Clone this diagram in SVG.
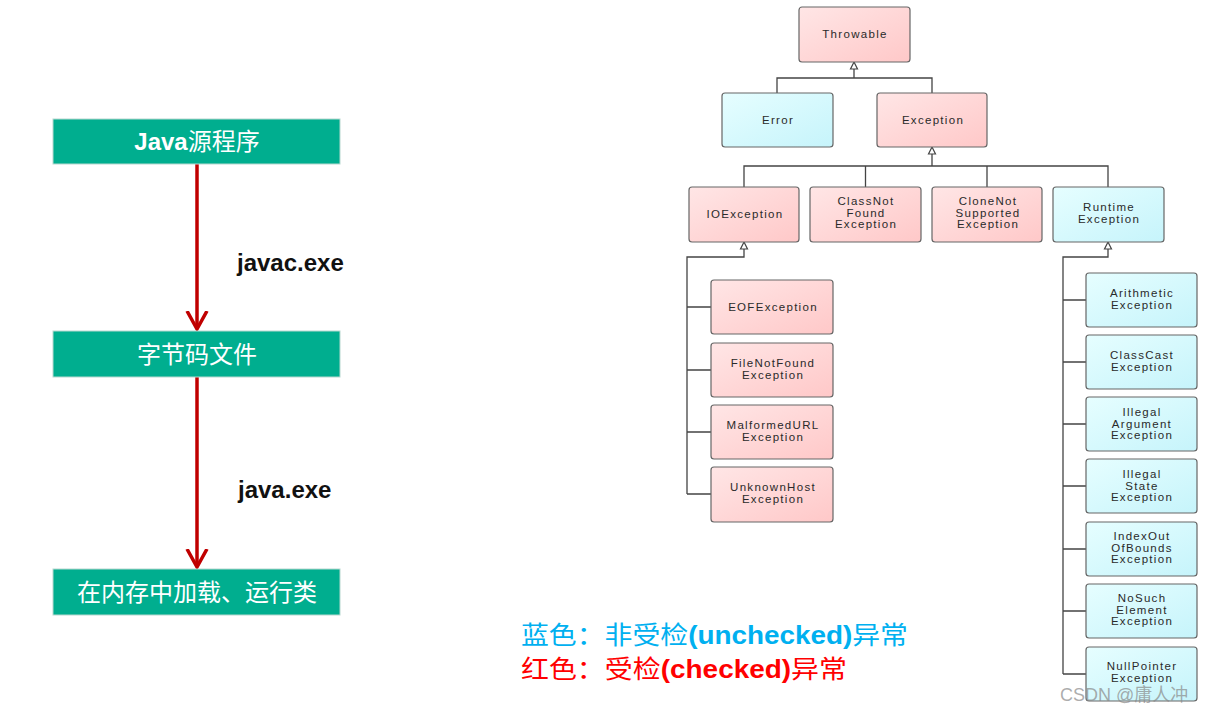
<svg xmlns="http://www.w3.org/2000/svg" width="1205" height="708" viewBox="0 0 1205 708">
<style>
.flow{fill:#00AE8F;stroke:#b8d8cf;stroke-width:1}
.ft{font-family:"Liberation Sans","Noto Sans CJK SC",sans-serif;font-size:24px;fill:#fff;text-anchor:middle}
.lbl{font-family:"Liberation Sans",sans-serif;font-size:24px;font-weight:bold;fill:#111}
.red{stroke:#C00000;stroke-width:3.5;fill:none}
.pk{fill:url(#gp);stroke:#666;stroke-width:1.2}
.cy{fill:url(#gc);stroke:#666;stroke-width:1.2}
.tt{font-family:"Liberation Sans",sans-serif;font-size:11.5px;letter-spacing:1.3px;fill:#2a2a2a;text-anchor:middle}
.tl{stroke:#444;stroke-width:1.3;fill:none}
.tri{fill:#fff;stroke:#444;stroke-width:1.2}
.leg{font-family:"Liberation Sans","Noto Sans CJK SC",sans-serif;font-size:25px}
</style>
<defs>
<linearGradient id="gp" x1="0" y1="0" x2="1" y2="1"><stop offset="0" stop-color="#FFE6E6"/><stop offset="1" stop-color="#FFC8C8"/></linearGradient>
<linearGradient id="gc" x1="0" y1="0" x2="1" y2="1"><stop offset="0" stop-color="#E6FEFF"/><stop offset="1" stop-color="#C6F4FB"/></linearGradient>
<marker id="chev" viewBox="0 0 24 20" refX="12" refY="18" markerWidth="24" markerHeight="20" markerUnits="userSpaceOnUse" orient="0">
<path d="M2,0 L12,18 L22,0" fill="none" stroke="#C00000" stroke-width="3.5"/>
</marker>
</defs>
<rect width="1205" height="708" fill="#fff"/>

<g id="connectors">
<line class="red" x1="197" y1="164" x2="197" y2="329" marker-end="url(#chev)"/>
<line class="red" x1="197" y1="377" x2="197" y2="567" marker-end="url(#chev)"/>
<path class="tl" d="M854,69 V78 M777,93 V78 H932 V93"/>
<path class="tl" d="M932,154 V166 M744,187 V166 H1108 V187 M865.5,166 V187 M987,166 V187"/>
<path class="tl" d="M744,249 V257 H687 V494 M687,307 H711 M687,370 H711 M687,432 H711 M687,494 H711"/>
<path class="tl" d="M1108,249 V257 H1063 V674 M1063,300 H1086 M1063,362 H1086 M1063,424 H1086 M1063,486 H1086 M1063,549 H1086 M1063,611 H1086 M1063,674 H1086"/>
<path class="tri" d="M854,62 L857.5,69 L850.5,69 Z"/>
<path class="tri" d="M932,147 L935.5,154 L928.5,154 Z"/>
<path class="tri" d="M744,242 L747.5,249 L740.5,249 Z"/>
<path class="tri" d="M1108,242 L1111.5,249 L1104.5,249 Z"/>
</g>

<g id="java-source"><rect class="flow" x="53" y="119" width="287" height="45"/><text class="ft" x="197" y="150"><tspan font-weight="bold">Java</tspan>源程序</text></g>
<g id="javac-label"><text class="lbl" x="237" y="271">javac.exe</text></g>
<g id="bytecode"><rect class="flow" x="53" y="331" width="287" height="46"/><text class="ft" x="197" y="363">字节码文件</text></g>
<g id="java-label"><text class="lbl" x="238" y="498">java.exe</text></g>
<g id="load-run"><rect class="flow" x="53" y="569" width="287" height="46"/><text class="ft" x="197" y="601">在内存中加载、运行类</text></g>

<g id="throwable"><rect class="pk" x="799" y="7" width="111" height="55" rx="3"/><text class="tt" x="855" y="38">Throwable</text></g>
<g id="error"><rect class="cy" x="722" y="93" width="111" height="54" rx="3"/><text class="tt" x="778" y="124">Error</text></g>
<g id="exception"><rect class="pk" x="877" y="93" width="110" height="54" rx="3"/><text class="tt" x="933" y="124">Exception</text></g>

<g id="ioexception"><rect class="pk" x="689" y="187" width="110" height="55" rx="3"/><text class="tt" x="745" y="218">IOException</text></g>
<g id="classnotfound"><rect class="pk" x="810" y="187" width="111" height="55" rx="3"/><text class="tt" x="866" y="205">ClassNot<tspan x="866" dy="11.7">Found</tspan><tspan x="866" dy="11.7">Exception</tspan></text></g>
<g id="clonenotsupported"><rect class="pk" x="932" y="187" width="110" height="55" rx="3"/><text class="tt" x="988" y="205">CloneNot<tspan x="988" dy="11.7">Supported</tspan><tspan x="988" dy="11.7">Exception</tspan></text></g>
<g id="runtime"><rect class="cy" x="1053" y="187" width="111" height="55" rx="3"/><text class="tt" x="1109" y="211">Runtime<tspan x="1109" dy="11.7">Exception</tspan></text></g>

<g id="eof"><rect class="pk" x="711" y="280" width="122" height="54" rx="3"/><text class="tt" x="773" y="311">EOFException</text></g>
<g id="filenotfound"><rect class="pk" x="711" y="343" width="122" height="54" rx="3"/><text class="tt" x="773" y="367">FileNotFound<tspan x="773" dy="11.7">Exception</tspan></text></g>
<g id="malformedurl"><rect class="pk" x="711" y="405" width="122" height="54" rx="3"/><text class="tt" x="773" y="429">MalformedURL<tspan x="773" dy="11.7">Exception</tspan></text></g>
<g id="unknownhost"><rect class="pk" x="711" y="467" width="122" height="55" rx="3"/><text class="tt" x="773" y="491">UnknownHost<tspan x="773" dy="11.7">Exception</tspan></text></g>

<g id="arithmetic"><rect class="cy" x="1086" y="273" width="111" height="54" rx="3"/><text class="tt" x="1142" y="297">Arithmetic<tspan x="1142" dy="11.7">Exception</tspan></text></g>
<g id="classcast"><rect class="cy" x="1086" y="335" width="111" height="54" rx="3"/><text class="tt" x="1142" y="359">ClassCast<tspan x="1142" dy="11.7">Exception</tspan></text></g>
<g id="illegalargument"><rect class="cy" x="1086" y="397" width="111" height="54" rx="3"/><text class="tt" x="1142" y="416">Illegal<tspan x="1142" dy="11.5">Argument</tspan><tspan x="1142" dy="11.5">Exception</tspan></text></g>
<g id="illegalstate"><rect class="cy" x="1086" y="459" width="111" height="54" rx="3"/><text class="tt" x="1142" y="478">Illegal<tspan x="1142" dy="11.7">State</tspan><tspan x="1142" dy="11.7">Exception</tspan></text></g>
<g id="indexoutofbounds"><rect class="cy" x="1086" y="522" width="111" height="54" rx="3"/><text class="tt" x="1142" y="540">IndexOut<tspan x="1142" dy="11.7">OfBounds</tspan><tspan x="1142" dy="11.7">Exception</tspan></text></g>
<g id="nosuchelement"><rect class="cy" x="1086" y="584" width="111" height="54" rx="3"/><text class="tt" x="1142" y="602">NoSuch<tspan x="1142" dy="11.7">Element</tspan><tspan x="1142" dy="11.7">Exception</tspan></text></g>
<g id="nullpointer"><rect class="cy" x="1086" y="647" width="111" height="54" rx="3"/><text class="tt" x="1142" y="670">NullPointer<tspan x="1142" dy="11.5">Exception</tspan></text></g>

<g id="legend">
<text class="leg" x="521" y="644" fill="#00B0F0" textLength="387" lengthAdjust="spacingAndGlyphs">蓝色：非受检<tspan font-weight="bold">(unchecked)</tspan>异常</text>
<text class="leg" x="521" y="678" fill="#FF0000" textLength="326" lengthAdjust="spacingAndGlyphs">红色：受检<tspan font-weight="bold">(checked)</tspan>异常</text>
</g>
<g id="watermark"><text x="1060" y="701" font-family="Liberation Sans,Noto Sans CJK SC,sans-serif" font-size="18" fill="#888" fill-opacity="0.7">CSDN @庸人冲</text></g>
</svg>
